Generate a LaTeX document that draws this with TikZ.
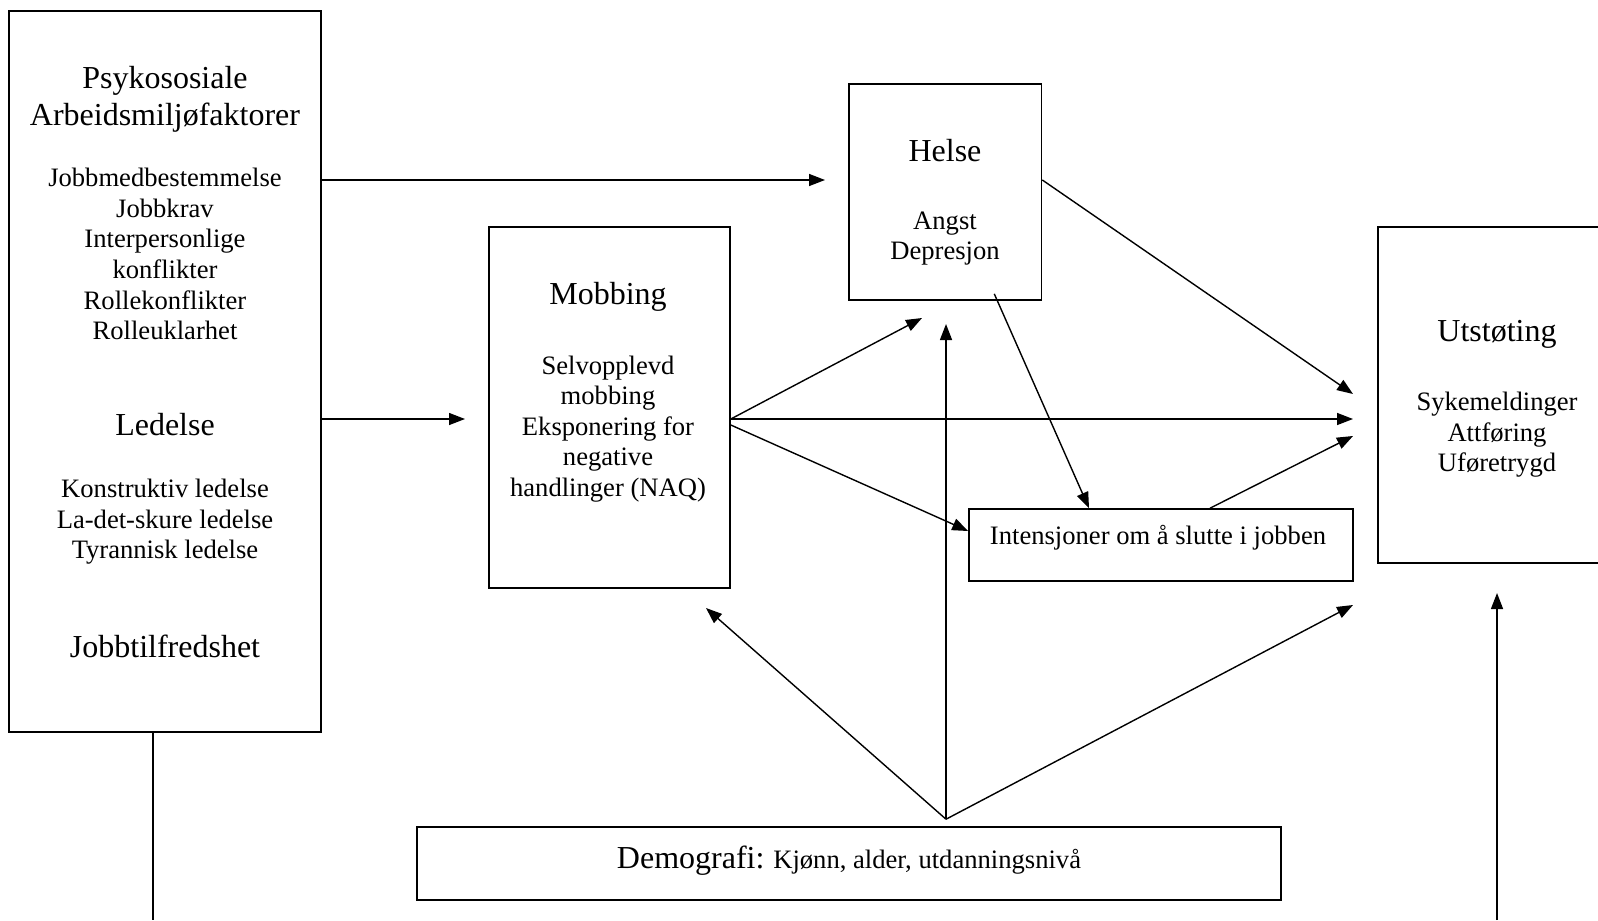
\documentclass[tikz,border=0pt]{standalone}
\usepackage{fontspec}
\setmainfont{Liberation Serif}
\usetikzlibrary{positioning}
\usetikzlibrary{arrows.meta}

\tikzset{
  box/.style={draw, line width=0.8pt, inner sep=0pt},
  big/.style={font=\fontsize{16}{18.35}\selectfont, align=center, inner sep=0pt},
  small/.style={font=\fontsize{13.3}{15.3}\selectfont, align=center, inner sep=0pt},
  arr/.style={line width=0.7pt, -{Triangle[length=8pt,width=6pt]}},
  link/.style={line width=0.7pt}
}

\begin{document}
\begin{tikzpicture}[x=0.5pt,y=-0.5pt]
\clip (0,0) rectangle (1598,920);

% boxes
\node[box, minimum width=156pt, minimum height=360.5pt] (faktor) at (165,371.5) {};
\node[box, minimum width=96.25pt, minimum height=108pt] (helse) at (945.25,192) {};
\node[box, minimum width=120.5pt, minimum height=180.5pt] (mobbing) at (609.5,407.5) {};
\node[box, minimum width=192pt, minimum height=36pt] (intensjon) at (1161,545) {};
\node[box, minimum width=119pt, minimum height=168pt] (utstot) at (1497,395) {};
\node[box, minimum width=432pt, minimum height=36.5pt] (demo) at (849,863.5) {};

% texts
\node[big] (faktortitle) at (165,99) {Psykososiale\\Arbeidsmiljøfaktorer};
\node[small] (faktorlist) at (165,254) {Jobbmedbestemmelse\\Jobbkrav\\Interpersonlige\\konflikter\\Rollekonflikter\\Rolleuklarhet};
\node[big] (ledelse) at (165,425) {Ledelse};
\node[small] (ledelselist) at (165,522) {Konstruktiv ledelse\\La-det-skure ledelse\\Tyrannisk ledelse};
\node[big] (tilfreds) at (165,646) {Jobbtilfredshet};
\node[big] (helsetitle) at (945,151) {Helse};
\node[small] (helselist) at (945,238.5) {Angst\\Depresjon};
\node[big] (mobbingtitle) at (608,296.5) {Mobbing};
\node[small] (mobbinglist) at (608,429) {Selvopplevd\\mobbing\\Eksponering for\\negative\\handlinger (NAQ)};
\node[big] (utstottitle) at (1497,334) {Utstøting};
\node[small] (utstotlist) at (1497,435) {Sykemeldinger\\Attføring\\Uføretrygd};
\node[small] (intenstext) at (1158,538) {Intensjoner om å slutte i jobben};
\node[small] (demotext) at (849,861) {{\fontsize{16}{18.35}\selectfont Demografi:} Kjønn, alder, utdanningsnivå};

% free ends
\coordinate (fh) at (825,180);
\coordinate (fm) at (465,419);
\coordinate (mh) at (922,318);
\coordinate (mu) at (1353,419);
\coordinate (hu) at (1353,394);
\coordinate (iu) at (1353,436);
\coordinate (dh) at (946,324);
\coordinate (dm) at (706,608);
\coordinate (du) at (1353,605);
\coordinate (fbot) at (153,920);
\coordinate (ubot) at (1497,920);
\coordinate (utop) at (1497,593);
\coordinate (apex) at ([xshift=48.5pt, yshift=3.5pt]demo.north);
\coordinate (mo) at ([yshift=-5.75pt]mobbing.east);

% connectors
\draw[arr] (faktor.east |- fh) -- (fh);
\draw[arr] (faktor.east |- fm) -- (fm);
\draw[link] ([xshift=-6pt]faktor.south) -- (fbot);
\draw[arr] (mo) -- (mh);
\draw[arr] (mo) -- (mu);
\draw[arr] ([yshift=-8.75pt]mobbing.east) -- ([yshift=7pt]intensjon.west);
\draw[arr] ([yshift=6pt]helse.east) -- (hu);
\draw[arr] ([xshift=24.5pt, yshift=3.5pt]helse.south) -- ([xshift=-36pt]intensjon.north);
\draw[arr] ([xshift=24.5pt]intensjon.north) -- (iu);
\draw[arr] (apex) -- (dh);
\draw[arr] (apex) -- (dm);
\draw[arr] (apex) -- (du);
\draw[arr] (ubot) -- (utop);
\end{tikzpicture}
\end{document}
